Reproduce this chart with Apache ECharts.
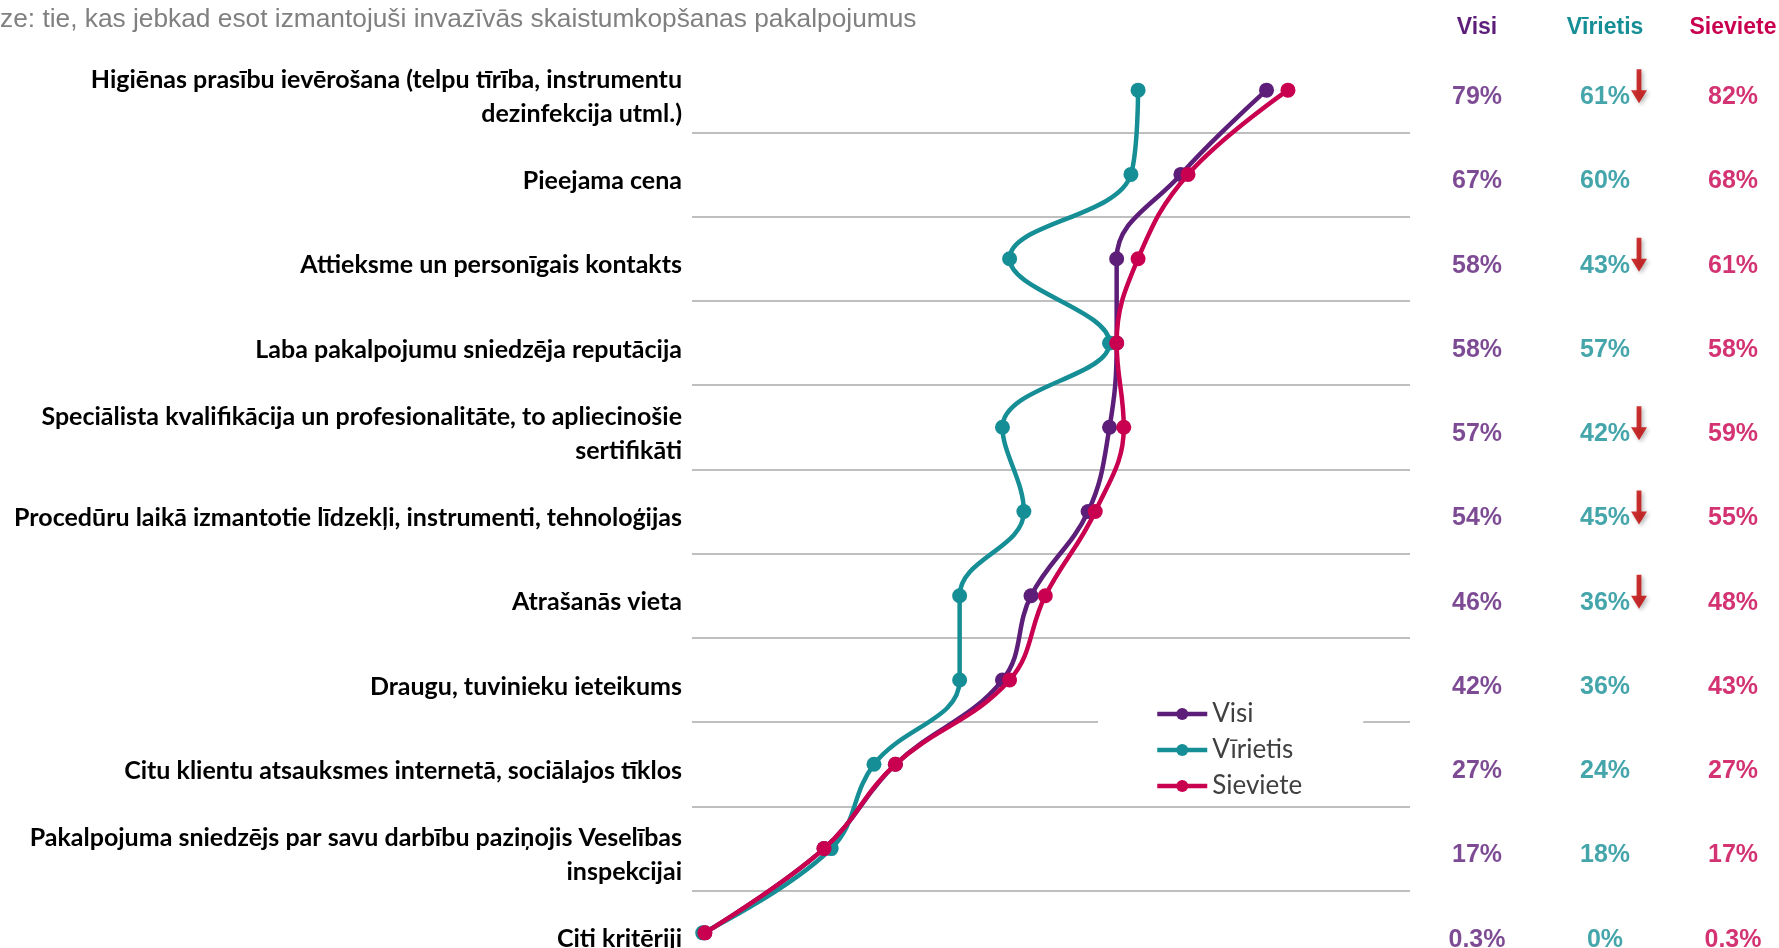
<!DOCTYPE html>
<html>
<head>
<meta charset="utf-8">
<script src="https://cdn.jsdelivr.net/npm/echarts@6/dist/echarts.min.js"></script>
<style>
  html, body { margin: 0; padding: 0; background: #fff; }
  #main { width: 1779px; height: 948px; }
</style>
</head>
<body>
<div id="main"></div>
<script>
// kritēriji (no augšas uz leju)
var categories = [
    'Higiēnas prasību ievērošana (telpu tīrība, instrumentu\ndezinfekcija utml.)',
    'Pieejama cena',
    'Attieksme un personīgais kontakts',
    'Laba pakalpojumu sniedzēja reputācija',
    'Speciālista kvalifikācija un profesionalitāte, to apliecinošie\nsertifikāti',
    'Procedūru laikā izmantotie līdzekļi, instrumenti, tehnoloģijas',
    'Atrašanās vieta',
    'Draugu, tuvinieku ieteikums',
    'Citu klientu atsauksmes internetā, sociālajos tīklos',
    'Pakalpojuma sniedzējs par savu darbību paziņojis Veselības\ninspekcijai',
    'Citi kritēriji'
];
var groups = ['Visi', 'Vīrietis', 'Sieviete'];
var visi = [79, 67, 58, 58, 57, 54, 46, 42, 27, 17, 0.3];
var virietis = [61, 60, 43, 57, 42, 45, 36, 36, 24, 18, 0];
var sieviete = [82, 68, 61, 58, 59, 55, 48, 43, 27, 17, 0.3];
// vīriešiem būtiski zemāk (sarkanā bultiņa)
var virietisLower = [1, 0, 1, 0, 1, 1, 1, 0, 0, 0, 0];

var colors = ['#5c1e79', '#158e95', '#c8004f'];
var values = [visi, virietis, sieviete];

var chart = echarts.init(document.getElementById('main'));

var series = [];
groups.forEach(function(name, i) {
    series.push({
        name: name,
        type: 'line',
        xAxisIndex: 0,
        yAxisIndex: 0,
        smooth: 0.4,
        data: values[i],
        symbol: 'circle',
        symbolSize: 15,
        lineStyle: { color: colors[i], width: 4.5 },
        itemStyle: { color: colors[i] },
        z: 3 + i
    });
});

// tabula labajā pusē
groups.forEach(function(name, i) {
    series.push({
        name: name + ' %',
        type: 'scatter',
        xAxisIndex: 1,
        yAxisIndex: 1,
        symbolSize: 1,
        itemStyle: { color: 'transparent' },
        data: values[i].map(function(v, r) {
            return [name, categories[r], v];
        }),
        label: {
            show: true,
            position: 'inside',
            offset: [0, 7],
            formatter: function(p) { return p.value[2] + '%'; },
            color: colors[i],
            fontFamily: 'Liberation Sans',
            fontWeight: 'bold',
            fontSize: 25
        },
        silent: true
    });
});

var arrowData = [];
virietisLower.forEach(function(f, r) {
    if (f) arrowData.push(['Vīrietis', categories[r]]);
});
series.push({
    name: 'arrows',
    type: 'scatter',
    xAxisIndex: 1,
    yAxisIndex: 1,
    data: arrowData,
    symbol: 'path://M5.25,0 L9.75,0 L9.75,21 L15,21 L7.5,34 L0,21 L5.25,21 Z',
    symbolSize: [16, 34],
    symbolOffset: [34, -4],
    itemStyle: {
        color: '#c00000',
        shadowBlur: 4,
        shadowColor: 'rgba(0,0,0,0.35)',
        shadowOffsetX: 2,
        shadowOffsetY: 2
    },
    silent: true,
    z: 5
});

var option = {
    animation: false,
    title: {
        text: 'ze: tie, kas jebkad esot izmantojuši invazīvās skaistumkopšanas pakalpojumus',
        left: 0,
        top: 7,
        padding: 0,
        textStyle: {
            color: '#808080',
            fontFamily: 'Liberation Sans',
            fontWeight: 'normal',
            fontSize: 26.3
        }
    },
    legend: {
        data: groups,
        orient: 'vertical',
        left: 1098,
        top: 693,
        padding: [6, 61, 0, 57],
        backgroundColor: '#fff',
        itemWidth: 50,
        itemHeight: 15,
        itemGap: 6,
        lineStyle: { width: 4.5 },
        textStyle: {
            color: '#404040',
            fontFamily: 'Lato',
            fontSize: 26,
            lineHeight: 30
        },
        z: 10
    },
    grid: [
        { left: 692, top: 48, width: 718, height: 927, containLabel: false, outerBoundsMode: 'none' },
        { left: 1413, top: 48, width: 384, height: 927, containLabel: false, outerBoundsMode: 'none' }
    ],
    xAxis: [
        {
            type: 'value',
            gridIndex: 0,
            min: -1.5,
            max: 99.1,
            show: false
        },
        {
            type: 'category',
            gridIndex: 1,
            position: 'top',
            data: groups,
            axisLine: { show: false },
            axisTick: { show: false },
            splitLine: { show: false },
            axisLabel: {
                margin: 9,
                fontFamily: 'Liberation Sans',
                fontWeight: 'bold',
                fontSize: 23,
                color: function(v, i) { return colors[i]; }
            }
        }
    ],
    yAxis: [
        {
            type: 'category',
            gridIndex: 0,
            inverse: true,
            data: categories,
            axisLine: { show: false },
            axisTick: { show: false },
            splitLine: {
                show: true,
                showMinLine: false,
                showMaxLine: false,
                lineStyle: { color: '#bfbfbf', width: 2 }
            },
            axisLabel: {
                margin: 10,
                align: 'right',
                fontFamily: 'Lato',
                fontWeight: 'bold',
                fontSize: 25,
                lineHeight: 34,
                color: '#000',
                // tukša augšējā rinda nobīda tekstu nedaudz uz leju
                formatter: function(v) { return '{s| }\n' + v; },
                rich: { s: { lineHeight: 13, fontSize: 10 } }
            }
        },
        {
            type: 'category',
            gridIndex: 1,
            inverse: true,
            data: categories,
            show: false
        }
    ],
    series: series
};
chart.setOption(option);
</script>
</body>
</html>
